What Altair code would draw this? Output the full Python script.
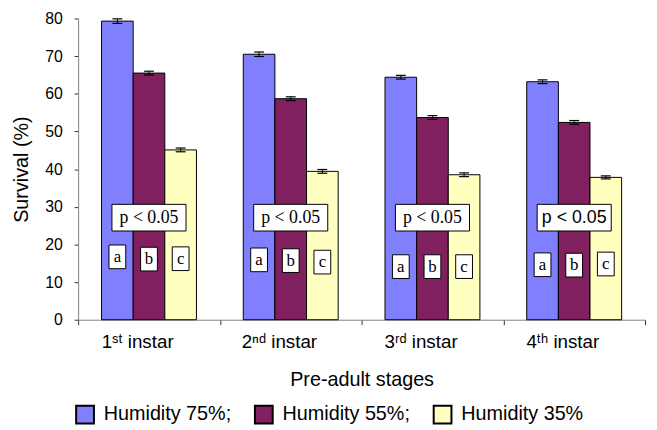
import altair as alt
import pandas as pd

stages = ["1ˢᵗ instar", "2ⁿᵈ instar", "3ʳᵈ instar", "4ᵗʰ instar"]
humidity = ["Humidity 75%", "Humidity 55%", "Humidity 35%"]
colors = ["#8080FF", "#80205F", "#FFFFC0"]
letters = ["a", "b", "c"]

survival_75 = [79.3, 70.5, 64.4, 63.2]
survival_55 = [65.5, 58.7, 53.7, 52.4]
survival_35 = [45.1, 39.4, 38.5, 37.8]
err_75 = [0.6, 0.6, 0.5, 0.5]
err_55 = [0.5, 0.5, 0.5, 0.5]
err_35 = [0.5, 0.5, 0.5, 0.4]

# vertical level (in % units) of the a/b/c letter labels
letter_y_75 = [16.7, 15.9, 14.1, 14.6]
letter_y_55 = [16.1, 15.7, 14.1, 14.5]
letter_y_35 = [16.2, 15.3, 14.1, 14.8]

p_text = ["p < 0.05", "p < 0.05", "p < 0.05", "p < 0.05"]
p_y = [27.1, 27.1, 27.1, 27.1]
y_ticks = [0, 10, 20, 30, 40, 50, 60, 70, 80]

rows = []
series = [
    (survival_75, err_75, letter_y_75),
    (survival_55, err_55, letter_y_55),
    (survival_35, err_35, letter_y_35),
]
for h, (vals, errs, ly), let in zip(humidity, series, letters):
    for s, v, e, y in zip(stages, vals, errs, ly):
        rows.append({"stage": s, "humidity": h, "value": v,
                     "lo": v - e, "hi": v + e, "letter": let, "ly": y})
df = pd.DataFrame(rows)
pdf = pd.DataFrame({"stage": stages, "p": p_text, "py": p_y,
                    "idx": list(range(len(stages)))})

xscale = alt.Scale(paddingInner=0, paddingOuter=0)
xaxis = alt.Axis(labelAngle=0, tickBand="extent", labelOffset=-12)
yscale = alt.Scale(domain=[0, 80], nice=False)
yaxis = alt.Axis(values=y_ticks, labelOverlap=False)


def X():
    return alt.X("stage:N", sort=stages, title="Pre-adult stages",
                 scale=xscale, axis=xaxis)


def Y(field):
    return alt.Y(field, title="Survival (%)", scale=yscale, axis=yaxis)


xoff = alt.XOffset("humidity:N", sort=humidity,
                   scale=alt.Scale(paddingInner=0, paddingOuter=0.74))

base = alt.Chart(df)

bars = base.mark_bar(stroke="black", strokeWidth=1).encode(
    x=X(),
    xOffset=xoff,
    y=Y("value:Q"),
    color=alt.Color("humidity:N", sort=humidity,
                    scale=alt.Scale(domain=humidity, range=colors),
                    legend=alt.Legend(
                        title=None, orient="none", legendX=-3, legendY=391,
                        direction="horizontal", symbolType="square",
                        symbolSize=324, symbolStrokeColor="black",
                        symbolStrokeWidth=2, labelFontSize=20,
                        labelFont="Liberation Sans", labelOffset=9,
                        columnPadding=20, labelColor="black",
                        labelLimit=300,
                        labelExpr="datum.label == 'Humidity 35%' ? datum.label : datum.label + ';'")),
)

rules = base.mark_rule(color="black", strokeWidth=1).encode(
    x=X(), xOffset=xoff, y=Y("lo:Q"), y2="hi:Q")
cap_lo = base.mark_point(shape="stroke", size=100, color="black",
                         strokeWidth=1.2, opacity=1).encode(
    x=X(), xOffset=xoff, y=Y("lo:Q"))
cap_hi = base.mark_point(shape="stroke", size=100, color="black",
                         strokeWidth=1.2, opacity=1).encode(
    x=X(), xOffset=xoff, y=Y("hi:Q"))

letter_box = base.mark_point(
    shape="M-0.708,-1H0.708V1H-0.708Z", size=576, filled=True,
    fill="white", stroke="black", strokeWidth=1, opacity=1).encode(
    x=X(), xOffset=xoff, y=Y("ly:Q"))
letter_text = base.mark_text(font="Liberation Serif", fontSize=17,
                             color="black", baseline="middle").encode(
    x=X(), xOffset=xoff, y=Y("ly:Q"), text="letter:N")

pbase = alt.Chart(pdf)
p_box = pbase.mark_point(
    shape="M-1,-0.36H1V0.36H-1Z", size=5625, filled=True,
    fill="white", stroke="black", strokeWidth=1, opacity=1).encode(
    x=X(), y=Y("py:Q"))
p_serif = pbase.transform_filter("datum.idx < 3").mark_text(
    font="Liberation Serif", fontSize=18, color="black",
    baseline="middle").encode(
    x=X(), y=Y("py:Q"), text="p:N")
p_sans = pbase.transform_filter("datum.idx == 3").mark_text(
    font="Liberation Sans", fontSize=18, color="black",
    baseline="middle").encode(
    x=X(), y=Y("py:Q"), text="p:N")

chart = alt.layer(
    bars, rules, cap_lo, cap_hi, p_box, p_serif, p_sans, letter_box, letter_text
).properties(
    width=574, height=305,
    autosize=alt.AutoSizeParams(type="none"),
    padding={"left": 71, "top": 8, "right": 4, "bottom": 106},
).configure_view(stroke=None).configure_axis(
    grid=False, domainColor="#808080", tickColor="#333333",
    labelColor="black", titleColor="black",
    labelFont="Liberation Sans", titleFont="Liberation Sans",
    titleFontWeight="normal",
).configure_axisY(
    labelFontSize=16, titleFontSize=20, tickSize=4, labelPadding=12,
    titlePadding=13,
).configure_axisX(
    labelFontSize=19, titleFontSize=20, tickSize=5, labelPadding=8,
    titlePadding=19,
)

chart.save("out.html", embed_options={"renderer": "svg", "actions": False})
